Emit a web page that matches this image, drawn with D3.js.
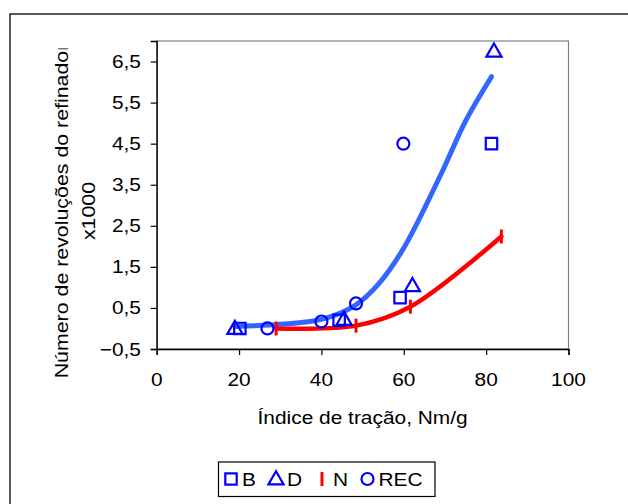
<!DOCTYPE html>
<html>
<head>
<meta charset="utf-8">
<script src="https://cdn.jsdelivr.net/npm/d3@7"></script>
<style>
  html, body { margin: 0; padding: 0; background: #fff; }
  svg { display: block; }
  text { font-family: "Liberation Sans", Arial, sans-serif; fill: #000; }
</style>
</head>
<body>
<svg id="chart" width="628" height="504"></svg>
<script>
// ---- data ----
const xB   = [20.2, 44.3, 59.1, 81.3];
const yB   = [0.0, 0.2, 0.75, 4.5];
const xD   = [19.0, 45.5, 62.1, 81.9];
const yD   = [0.0, 0.22, 1.04, 6.75];
const xN   = [29.0, 48.4, 61.6, 83.7];
const yN   = [0.0, 0.07, 0.53, 2.24];
const xREC = [26.9, 40.0, 48.4, 59.9];
const yREC = [0.0, 0.17, 0.61, 4.5];
// fitted (smoothed) blue curve
const xFit = [19, 30, 40, 48, 54, 60, 69, 75, 81.3];
const yFit = [0.05, 0.1, 0.22, 0.55, 1.1, 1.96, 3.75, 5.05, 6.13];

const xTicks = [0, 20, 40, 60, 80, 100];
const yTicks = [-0.5, 0.5, 1.5, 2.5, 3.5, 4.5, 5.5, 6.5];
const legendNames = ["B", "D", "N", "REC"];

const xTitle = "Índice de tração, Nm/g";
const yTitle1 = "Número de revoluções do refinador";
const yTitle2 = "x1000";

// ---- layout ----
const svg = d3.select("#chart");
const L = 156.7, R = 568.5, T = 41, B = 349;
const x = d3.scaleLinear().domain([0, 100]).range([L, R]);
const y = d3.scaleLinear().domain([-0.5, 7.0]).range([B, T]);
const FS = 18.5, SX = 1.13, SXY = 1.155;
const fmt = d => d3.format(".1f")(d).replace(".", ",");

// outer border
svg.append("rect").attr("x", 10).attr("y", 14).attr("width", 640).attr("height", 520)
  .attr("fill", "none").attr("stroke", "#000").attr("stroke-width", 1.3);

// plot frame
svg.append("rect").attr("x", L).attr("y", T).attr("width", R - L).attr("height", B - T)
  .attr("fill", "none").attr("stroke", "#808080").attr("stroke-width", 1.2);

// axes
const gx = svg.append("g").attr("transform", `translate(0,${B})`)
  .call(d3.axisBottom(x).tickValues(xTicks).tickSize(6).tickFormat(""));
const gy = svg.append("g").attr("transform", `translate(${L},0)`)
  .call(d3.axisLeft(y).tickValues(yTicks).tickSize(6).tickFormat(""));
[gx, gy].forEach(g => {
  g.selectAll("path").attr("stroke", "#000").attr("stroke-width", 1.3);
  g.selectAll("line").attr("stroke", "#000").attr("stroke-width", 1.2);
});

function htext(tx, ty, str, anchor) {
  return svg.append("text")
    .attr("transform", `translate(${tx},${ty}) scale(${SX},1)`)
    .attr("text-anchor", anchor).attr("font-size", FS).text(str);
}
xTicks.forEach(v => htext(x(v), 386, String(v), "middle"));
yTicks.forEach(v => htext(141, y(v) + 6.5, fmt(v), "end"));
htext((L + R) / 2, 423.5, xTitle, "middle");

// y title (clipped at top like the original)
svg.append("clipPath").attr("id", "ytclip").append("rect")
  .attr("x", 0).attr("y", 48.5).attr("width", 150).attr("height", 460);
const yt = svg.append("g").attr("clip-path", "url(#ytclip)");
yt.append("text").attr("transform", `translate(68,211) rotate(-90) scale(${SXY},1)`)
  .attr("text-anchor", "middle").attr("font-size", FS).text(yTitle1);
yt.append("text").attr("transform", `translate(95,211) rotate(-90) scale(${SXY},1)`)
  .attr("text-anchor", "middle").attr("font-size", FS).text(yTitle2);

// curves
const line = d3.line().x(d => x(d[0])).y(d => y(d[1])).curve(d3.curveCatmullRom.alpha(0.5));
svg.append("path").datum(d3.zip(xFit, yFit)).attr("d", line)
  .attr("fill", "none").attr("stroke", "#3366FF").attr("stroke-width", 5).attr("stroke-linecap", "round");
svg.append("path").datum(d3.zip(xN, yN)).attr("d", line)
  .attr("fill", "none").attr("stroke", "#FF0000").attr("stroke-width", 4.5).attr("stroke-linecap", "round");

// markers
const blue = "#0000FF";
const sq = d3.symbol().type(d3.symbolSquare).size(130);
const tri = d3.symbol().type(d3.symbolTriangle).size(100);
function drawSym(g, cx, cy, kind) {
  if (kind === "B") {
    g.append("path").attr("d", sq()).attr("transform", `translate(${cx},${cy})`)
      .attr("fill", "none").attr("stroke", blue).attr("stroke-width", 2.2);
  } else if (kind === "D") {
    g.append("path").attr("d", tri()).attr("transform", `translate(${cx},${cy + 1})`)
      .attr("fill", "none").attr("stroke", blue).attr("stroke-width", 2.2);
  } else if (kind === "N") {
    g.append("line").attr("x1", cx).attr("x2", cx).attr("y1", cy - 7).attr("y2", cy + 7)
      .attr("stroke", "#FF0000").attr("stroke-width", 3);
  } else {
    g.append("circle").attr("cx", cx).attr("cy", cy).attr("r", 6)
      .attr("fill", "none").attr("stroke", blue).attr("stroke-width", 2.2);
  }
}
const mk = svg.append("g");
xN.forEach((v, i) => drawSym(mk, x(v), y(yN[i]), "N"));
xB.forEach((v, i) => drawSym(mk, x(v), y(yB[i]), "B"));
xD.forEach((v, i) => drawSym(mk, x(v), y(yD[i]), "D"));
xREC.forEach((v, i) => drawSym(mk, x(v), y(yREC[i]), "REC"));

// legend
svg.append("rect").attr("x", 218.5).attr("y", 462).attr("width", 216.5).attr("height", 34.5)
  .attr("fill", "#fff").attr("stroke", "#000").attr("stroke-width", 1.2);
const lg = svg.append("g");
const legX = [231, 276, 322, 367.5];
const ly = 479;
legendNames.forEach((n, i) => {
  drawSym(lg, legX[i], ly, n);
  htext(legX[i] + 11, ly + 7, n, "start");
});
</script>
</body>
</html>
